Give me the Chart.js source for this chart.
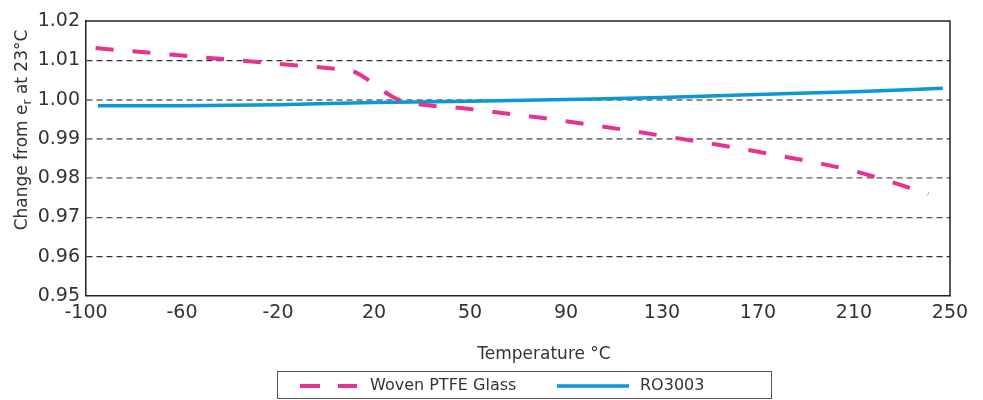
<!DOCTYPE html>
<html>
<head>
<meta charset="utf-8">
<title>Change from er at 23°C</title>
<script src="https://cdn.jsdelivr.net/npm/chart.js@4.4.1/dist/chart.umd.min.js"></script>
<style>
    html, body { margin: 0; padding: 0; background: #ffffff; }
    #chart-box { width: 983px; height: 400px; }
</style>
</head>
<body>
<div id="chart-box"><canvas id="er-chart" width="983" height="400"></canvas></div>
<script>
// Tick labels on the temperature axis (they are evenly spaced on the picture)
const tempTicks = [-100, -60, -20, 20, 50, 90, 130, 170, 210, 250];
const erTicks = [0.95, 0.96, 0.97, 0.98, 0.99, 1.00, 1.01, 1.02];

// Woven PTFE Glass (dashed pink)
const ptfeTemp = [-96, -60, -20, 6, 11, 25, 28, 50, 90, 130, 170, 210, 241];
const ptfeEr = [1.0131, 1.0112, 1.0091, 1.0077, 1.0073, 1.0011, 0.9999, 0.9976, 0.9945, 0.9908, 0.9867, 0.9818, 0.9760];

// RO3003 (solid blue)
const roTemp = [-95, -60, -20, 20, 50, 90, 130, 170, 210, 247];
const roEr = [0.9984, 0.99845, 0.9987, 0.99925, 0.9996, 1.0000, 1.0005, 1.0013, 1.0020, 1.0029];

const seriesNames = ['Woven PTFE Glass', 'RO3003'];

function start() {
    const FONT = '"DejaVu Sans", sans-serif';
    const TEXT = '#333333';
    const PINK = '#e8328f';
    const BLUE = '#0a98d6';

    // The axis labels are not evenly spaced in degrees, so map a temperature
    // to its position between the neighbouring tick labels
    function tempToPos(t) {
        let i = 0;
        while (i < tempTicks.length - 2 && t > tempTicks[i + 1]) i++;
        return i + (t - tempTicks[i]) / (tempTicks[i + 1] - tempTicks[i]);
    }

    function toPoints(temps, values) {
        return temps.map((t, i) => ({ x: tempToPos(t), y: values[i] }));
    }

    // grid style per y tick (index 0 = 0.95 ... 7 = 1.02)
    const gridColors = ['transparent', '#333', '#555', '#8a8a8a', '#7a7a7a', '#8a8a8a', '#333', 'transparent'];
    const gridWidths = [0, 1.2, 1.3, 1.8, 1.8, 2, 1.2, 0];

    // Frame, axis titles and boxed legend
    const extras = {
        id: 'extras',
        afterDraw(chart) {
            const ctx = chart.ctx;
            const area = chart.chartArea;
            ctx.save();

            // top and right border of the plot
            ctx.strokeStyle = '#222';
            ctx.lineWidth = 1.5;
            ctx.beginPath();
            ctx.moveTo(area.left, area.top);
            ctx.lineTo(area.right, area.top);
            ctx.lineTo(area.right, area.bottom);
            ctx.stroke();

            // x axis title
            ctx.fillStyle = TEXT;
            ctx.font = '17px ' + FONT;
            ctx.textAlign = 'center';
            ctx.textBaseline = 'middle';
            ctx.fillText('Temperature °C', 544, 355);

            // y axis title with subscript r
            ctx.save();
            ctx.translate(21, 130);
            ctx.rotate(-Math.PI / 2);
            ctx.textAlign = 'left';
            ctx.textBaseline = 'alphabetic';
            const big = '17px ' + FONT, small = '12px ' + FONT;
            ctx.font = big;
            const w1 = ctx.measureText('Change from e').width;
            const w3 = ctx.measureText(' at 23°C').width;
            ctx.font = small;
            const w2 = ctx.measureText('r').width;
            let x = -(w1 + w2 + w3) / 2;
            ctx.font = big;
            ctx.fillText('Change from e', x, 6);
            x += w1;
            ctx.font = small;
            ctx.fillText('r', x, 10);
            x += w2;
            ctx.font = big;
            ctx.fillText(' at 23°C', x, 6);
            ctx.restore();

            // legend box
            ctx.strokeStyle = '#555';
            ctx.lineWidth = 1;
            ctx.strokeRect(277.5, 371.5, 494, 27);

            const ds = chart.data.datasets;
            const items = [
                { x0: 300, x1: 357, tx: 370 },
                { x0: 557, x1: 629, tx: 640 }
            ];
            items.forEach((it, i) => {
                ctx.strokeStyle = ds[i].borderColor;
                ctx.lineWidth = ds[i].borderWidth;
                ctx.setLineDash(i === 0 ? [20, 18] : []);
                ctx.beginPath();
                ctx.moveTo(it.x0, 386);
                ctx.lineTo(it.x1, 386);
                ctx.stroke();
                ctx.setLineDash([]);
                ctx.fillStyle = TEXT;
                ctx.font = '16px ' + FONT;
                ctx.textAlign = 'left';
                ctx.textBaseline = 'middle';
                ctx.fillText(ds[i].label, it.tx, 386);
            });

            ctx.restore();
        }
    };

    const ctx = document.getElementById('er-chart').getContext('2d');
    new Chart(ctx, {
        type: 'line',
        data: {
            datasets: [{
                label: seriesNames[0],
                data: toPoints(ptfeTemp, ptfeEr),
                borderColor: PINK,
                borderWidth: 4,
                borderDash: [18, 19],
                borderCapStyle: 'butt',
                cubicInterpolationMode: 'monotone',
                pointRadius: 0,
                fill: false
            }, {
                label: seriesNames[1],
                data: toPoints(roTemp, roEr),
                borderColor: BLUE,
                borderWidth: 3.5,
                cubicInterpolationMode: 'monotone',
                pointRadius: 0,
                fill: false
            }]
        },
        options: {
            responsive: false,
            animation: false,
            layout: { padding: { left: 0, top: 21, right: 33, bottom: 0 } },
            plugins: {
                legend: { display: false },
                tooltip: { enabled: false }
            },
            scales: {
                x: {
                    type: 'linear',
                    min: 0,
                    max: tempTicks.length - 1,
                    afterBuildTicks: scale => {
                        scale.ticks = tempTicks.map((t, i) => ({ value: i }));
                    },
                    afterFit: scale => { scale.height = 104; },
                    ticks: {
                        padding: 6,
                        color: TEXT,
                        font: { family: FONT, size: 19 },
                        maxRotation: 0,
                        autoSkip: false,
                        callback: v => tempTicks[v]
                    },
                    grid: { display: false, drawTicks: false },
                    border: { display: true, color: '#222', width: 1.5 }
                },
                y: {
                    min: erTicks[0],
                    max: erTicks[erTicks.length - 1],
                    afterBuildTicks: scale => {
                        scale.ticks = erTicks.map(v => ({ value: v }));
                    },
                    afterFit: scale => { scale.width = 86; },
                    ticks: {
                        padding: 6,
                        color: TEXT,
                        font: { family: FONT, size: 19 },
                        callback: v => v.toFixed(2)
                    },
                    grid: {
                        drawTicks: false,
                        color: c => gridColors[c.index] || 'transparent',
                        lineWidth: c => gridWidths[c.index] || 0
                    },
                    border: { display: true, color: '#222', width: 1.5, dash: [6, 4] }
                }
            }
        },
        plugins: [extras]
    });
}

window.addEventListener('load', start, false);
</script>
</body>
</html>
